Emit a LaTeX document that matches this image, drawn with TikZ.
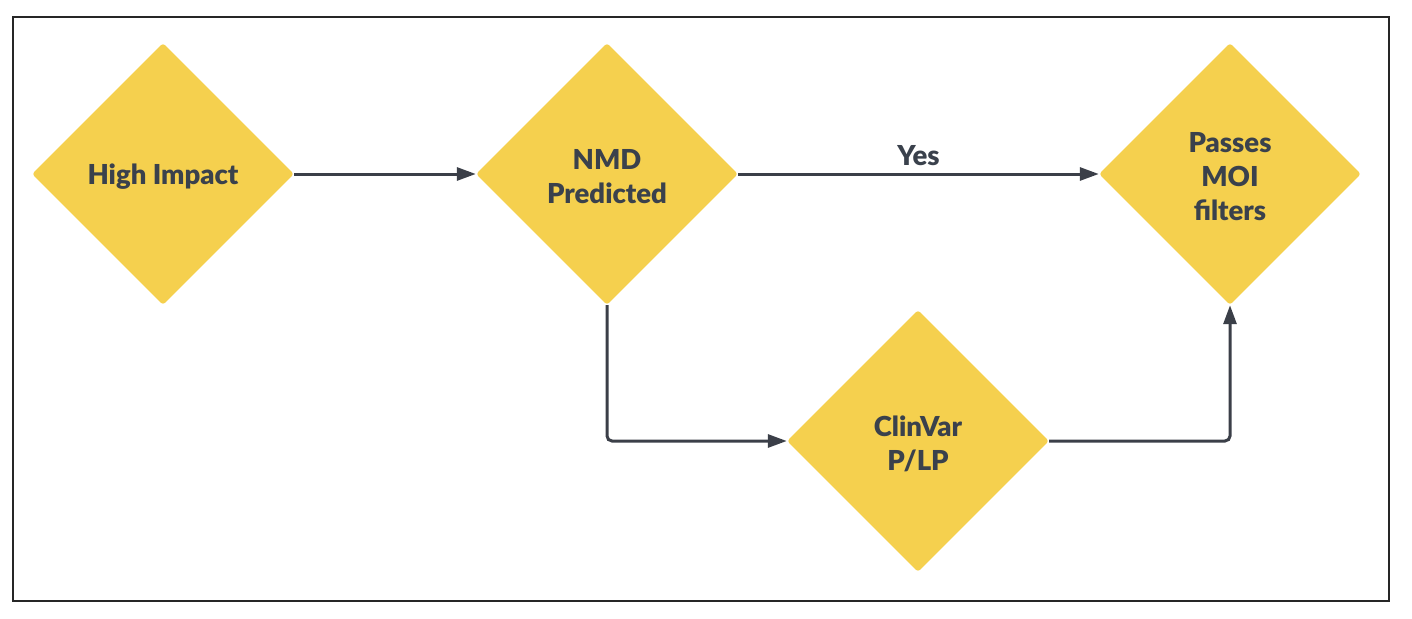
\documentclass[tikz,border=0pt]{standalone}
\usepackage{fontspec}
\setmainfont{Lato}[BoldFont={Lato Black}]
\usetikzlibrary{shapes.geometric,arrows.meta}
\definecolor{dyellow}{HTML}{F5D04E}
\definecolor{dline}{HTML}{3B3F48}
\definecolor{dtext}{HTML}{3A414C}
\tikzset{
  decision/.style={diamond, fill=dyellow, draw=none, minimum width=262pt, minimum height=262pt,
    inner sep=0pt, rounded corners=3pt},
  dtxt/.style={align=center, text=dtext, inner sep=0pt,
    font=\fontsize{27.5}{34}\selectfont\bfseries},
  link/.style={draw=dline, line width=3pt, rounded corners=5pt,
    -{Triangle[length=19pt,width=13pt]}},
  lbl/.style={text=dtext, font=\fontsize{27.5}{34}\selectfont\bfseries}
}
\begin{document}
\begin{tikzpicture}[x=1pt,y=-1pt]
\useasboundingbox (0,0) rectangle (1412,618);
\draw[line width=2pt, draw=black!85] (13,17) rectangle (1389,601);
\node[decision] (hi) at (163,174) {};
\node[decision] (nmd) at (607,174) {};
\node[decision] (moi) at (1230,174) {};
\node[decision] (cv) at (918,441) {};
\node[dtxt] (hit) at ([yshift=-3pt]hi.center) {High Impact};
\node[dtxt] (nmdt) at ([yshift=-3pt]nmd.center) {NMD\\Predicted};
\node[dtxt] (moit) at ([yshift=-3pt]moi.center) {Passes\\MOI\\filters};
\node[dtxt] (cvt) at ([yshift=-3pt]cv.center) {ClinVar\\P/LP};
\draw[link] (hi.east) -- (nmd.west);
\draw[link] (nmd.east) -- node[lbl, above=3pt] (yes) {Yes} (moi.west);
\draw[link] (nmd.south) |- (cv.west);
\draw[link] (cv.east) -| (moi.south);
\end{tikzpicture}
\end{document}
